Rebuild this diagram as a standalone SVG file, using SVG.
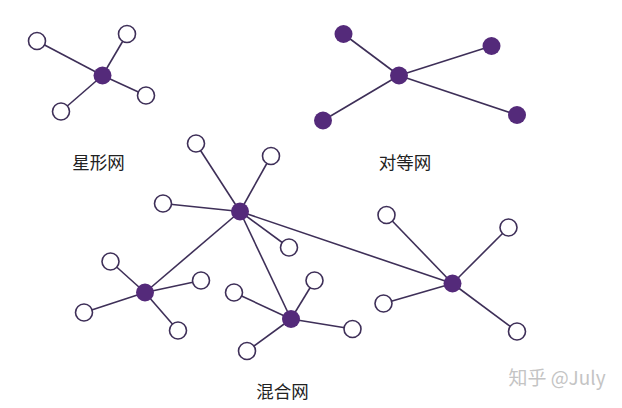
<svg xmlns="http://www.w3.org/2000/svg" width="622" height="408" viewBox="0 0 622 408">
<style>
.e{stroke:#3e2f58;stroke-width:1.6;fill:none}
.o{fill:#fff;stroke:#3e2f58;stroke-width:1.6}
.f{fill:#542a7a}
.t{font-family:"Noto Sans CJK SC","Liberation Sans",sans-serif;font-size:17.5px;fill:#222}
.w{font-family:"Noto Sans CJK SC","Liberation Sans",sans-serif;font-size:19px;fill:#c4c4c4}
</style>
<rect width="622" height="408" fill="#fff"/>
<g id="connectors">
<line class="e" x1="102.5" y1="75.5" x2="37" y2="41"/>
<line class="e" x1="102.5" y1="75.5" x2="127" y2="34"/>
<line class="e" x1="102.5" y1="75.5" x2="146" y2="95.5"/>
<line class="e" x1="102.5" y1="75.5" x2="61" y2="111.5"/>
<line class="e" x1="399" y1="75.5" x2="343.5" y2="34"/>
<line class="e" x1="399" y1="75.5" x2="491.5" y2="46"/>
<line class="e" x1="399" y1="75.5" x2="517" y2="115"/>
<line class="e" x1="399" y1="75.5" x2="323" y2="120.5"/>
<line class="e" x1="240" y1="211.5" x2="196" y2="143.5"/>
<line class="e" x1="240" y1="211.5" x2="271" y2="156"/>
<line class="e" x1="240" y1="211.5" x2="163" y2="203.5"/>
<line class="e" x1="240" y1="211.5" x2="289" y2="247.5"/>
<line class="e" x1="240" y1="211.5" x2="145" y2="292.5"/>
<line class="e" x1="240" y1="211.5" x2="291" y2="319"/>
<line class="e" x1="240" y1="211.5" x2="452.5" y2="283.5"/>
<line class="e" x1="145" y1="292.5" x2="110.5" y2="261.5"/>
<line class="e" x1="145" y1="292.5" x2="201" y2="280.5"/>
<line class="e" x1="145" y1="292.5" x2="84" y2="312.5"/>
<line class="e" x1="145" y1="292.5" x2="178" y2="330.5"/>
<line class="e" x1="291" y1="319" x2="234" y2="292.5"/>
<line class="e" x1="291" y1="319" x2="314.5" y2="280.5"/>
<line class="e" x1="291" y1="319" x2="352.5" y2="329"/>
<line class="e" x1="291" y1="319" x2="247" y2="351"/>
<line class="e" x1="452.5" y1="283.5" x2="386.5" y2="215"/>
<line class="e" x1="452.5" y1="283.5" x2="508.5" y2="227.5"/>
<line class="e" x1="452.5" y1="283.5" x2="383.5" y2="303.5"/>
<line class="e" x1="452.5" y1="283.5" x2="517" y2="331.5"/>
</g>
<g id="star">
<circle class="f" cx="102.5" cy="75.5" r="9"/>
<circle class="o" cx="37" cy="41" r="8.5"/>
<circle class="o" cx="127" cy="34" r="8.5"/>
<circle class="o" cx="146" cy="95.5" r="8.5"/>
<circle class="o" cx="61" cy="111.5" r="8.5"/>
</g>
<g id="peer">
<circle class="f" cx="399" cy="75.5" r="9"/>
<circle class="f" cx="343.5" cy="34" r="9"/>
<circle class="f" cx="491.5" cy="46" r="9"/>
<circle class="f" cx="517" cy="115" r="9"/>
<circle class="f" cx="323" cy="120.5" r="9"/>
</g>
<g id="hubA">
<circle class="f" cx="240" cy="211.5" r="9"/>
<circle class="o" cx="196" cy="143.5" r="8.5"/>
<circle class="o" cx="271" cy="156" r="8.5"/>
<circle class="o" cx="163" cy="203.5" r="8.5"/>
<circle class="o" cx="289" cy="247.5" r="8.5"/>
</g>
<g id="hubB">
<circle class="f" cx="145" cy="292.5" r="9"/>
<circle class="o" cx="110.5" cy="261.5" r="8.5"/>
<circle class="o" cx="201" cy="280.5" r="8.5"/>
<circle class="o" cx="84" cy="312.5" r="8.5"/>
<circle class="o" cx="178" cy="330.5" r="8.5"/>
</g>
<g id="hubC">
<circle class="f" cx="291" cy="319" r="9"/>
<circle class="o" cx="234" cy="292.5" r="8.5"/>
<circle class="o" cx="314.5" cy="280.5" r="8.5"/>
<circle class="o" cx="352.5" cy="329" r="8.5"/>
<circle class="o" cx="247" cy="351" r="8.5"/>
</g>
<g id="hubD">
<circle class="f" cx="452.5" cy="283.5" r="9"/>
<circle class="o" cx="386.5" cy="215" r="8.5"/>
<circle class="o" cx="508.5" cy="227.5" r="8.5"/>
<circle class="o" cx="383.5" cy="303.5" r="8.5"/>
<circle class="o" cx="517" cy="331.5" r="8.5"/>
</g>
<g id="labels">
<text class="t" x="98.5" y="169" text-anchor="middle">星形网</text>
<text class="t" x="405" y="169" text-anchor="middle">对等网</text>
<text class="t" x="282.5" y="398" text-anchor="middle">混合网</text>
<text class="w" x="557" y="385" text-anchor="middle">知乎 @July</text>
</g>
</svg>
